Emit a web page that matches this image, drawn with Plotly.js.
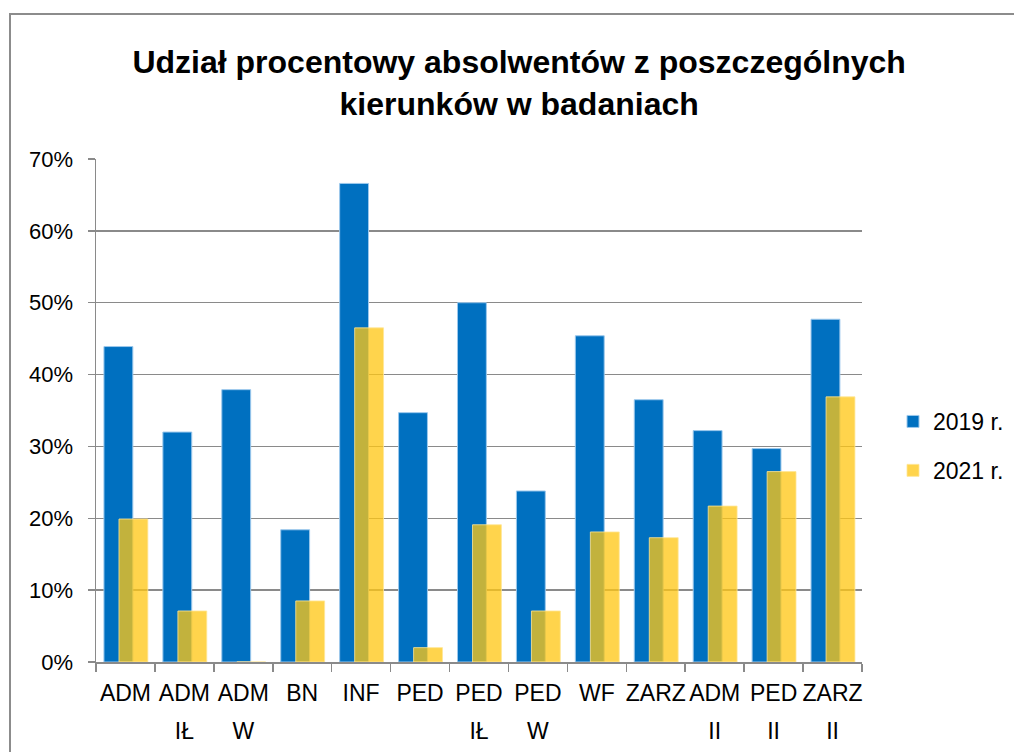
<!DOCTYPE html>
<html>
<head>
<meta charset="utf-8">
<script src="https://cdn.plot.ly/plotly-3.0.1.min.js"></script>
<style>
html,body{margin:0;padding:0;background:#fff;}
#chart{width:1014px;height:752px;}
</style>
</head>
<body>
<div id="chart"></div>
<script>
const categories = ["ADM", "ADM IŁ", "ADM W", "BN", "INF", "PED", "PED IŁ", "PED W", "WF", "ZARZ", "ADM II", "PED II", "ZARZ II"];
const labelLine1 = ["ADM", "ADM", "ADM", "BN", "INF", "PED", "PED", "PED", "WF", "ZARZ", "ADM", "PED", "ZARZ"];
const labelLine2 = ["", "IŁ", "W", "", "", "", "IŁ", "W", "", "", "II", "II", "II"];
const values2019 = [0.439, 0.320, 0.379, 0.184, 0.666, 0.347, 0.500, 0.238, 0.454, 0.365, 0.322, 0.297, 0.477];
const values2021 = [0.199, 0.071, 0, 0.085, 0.465, 0.020, 0.191, 0.071, 0.181, 0.173, 0.217, 0.265, 0.369];
const seriesNames = ["2019 r.", "2021 r."];
const yTicks = [0, 0.1, 0.2, 0.3, 0.4, 0.5, 0.6, 0.7];

const FONT = "Liberation Sans, Arial, sans-serif";
const GRID = "#8a8a8a";

const traces = [
  {
    type: "bar", name: seriesNames[0], x: categories, y: values2019,
    width: 0.49, offset: -0.365,
    marker: {color: "#0070C0", line: {color: "#9cc8ec", width: 1}},
    legendgroup: "a", hoverinfo: "x+y"
  },
  {
    type: "bar", name: seriesNames[1], x: categories, y: values2021,
    width: 0.49, offset: -0.11,
    marker: {color: "rgba(255,198,20,0.76)", line: {color: "rgba(255,230,150,0.8)", width: 1}},
    legendgroup: "b", hoverinfo: "x+y"
  },
  {
    type: "scatter", x: [0], y: [0], xaxis: "x2", yaxis: "y",
    mode: "markers", marker: {opacity: 0}, showlegend: false, hoverinfo: "skip"
  }
];

const layout = {
  width: 1014, height: 752,
  margin: {l: 96, r: 152, t: 159, b: 90, autoexpand: false},
  paper_bgcolor: "#fff", plot_bgcolor: "#fff",
  font: {family: FONT, size: 22, color: "#000"},
  title: {
    text: "<b>Udział procentowy absolwentów z poszczególnych<br>kierunków w badaniach</b>",
    font: {family: FONT, size: 32, color: "#000"},
    x: 0.512, xref: "container", xanchor: "center",
    y: 0.903, yref: "container", yanchor: "middle"
  },
  barmode: "overlay",
  bargap: 0,
  showlegend: true,
  legend: {
    xref: "container", yref: "container",
    x: 893 / 1014, xanchor: "left", y: 1 - 446 / 752, yanchor: "middle",
    font: {family: FONT, size: 23, color: "#000"},
    traceorder: "grouped", tracegroupgap: 16,
    itemwidth: 30, bgcolor: "rgba(0,0,0,0)"
  },
  xaxis: {
    type: "category",
    categoryorder: "array", categoryarray: categories,
    tickvals: categories, ticktext: labelLine1,
    tickson: "boundaries", tickangle: 0,
    ticks: "outside", ticklen: 8, tickcolor: GRID, tickwidth: 1.5,
    showline: true, linecolor: GRID, linewidth: 1.5,
    showgrid: false, zeroline: false,
    tickfont: {family: FONT, size: 23, color: "#000"},
    ticklabelstandoff: 10,
    range: [-0.5, 12.5], fixedrange: true
  },
  xaxis2: {
    type: "linear", overlaying: "x", anchor: "y", side: "bottom",
    range: [-0.5, 12.5], tickangle: 0,
    tickmode: "array", tickvals: categories.map((_, i) => i), ticktext: labelLine2,
    ticks: "", showline: false, showgrid: false, zeroline: false,
    tickfont: {family: FONT, size: 23, color: "#000"},
    ticklabelstandoff: 53
  },
  yaxis: {
    range: [0, 0.7],
    tickvals: yTicks, tickformat: ".0%",
    ticks: "outside", ticklen: 7, tickcolor: GRID, tickwidth: 1.5,
    showline: true, linecolor: GRID, linewidth: 1.5,
    showgrid: true, gridcolor: GRID, gridwidth: 1.5,
    zeroline: false,
    tickfont: {family: FONT, size: 22, color: "#000"},
    ticklabelstandoff: 10
  },
  shapes: [
    {
      type: "rect", xref: "paper", yref: "paper",
      x0: (10 - 96) / 766, x1: (1030 - 96) / 766,
      y0: (662 - 770) / 503, y1: (662 - 14) / 503,
      line: {color: "#8c8c8c", width: 2}, fillcolor: "rgba(0,0,0,0)", layer: "below"
    }
  ]
};

Plotly.newPlot("chart", traces, layout, {displayModeBar: false, staticPlot: true});
</script>
</body>
</html>
